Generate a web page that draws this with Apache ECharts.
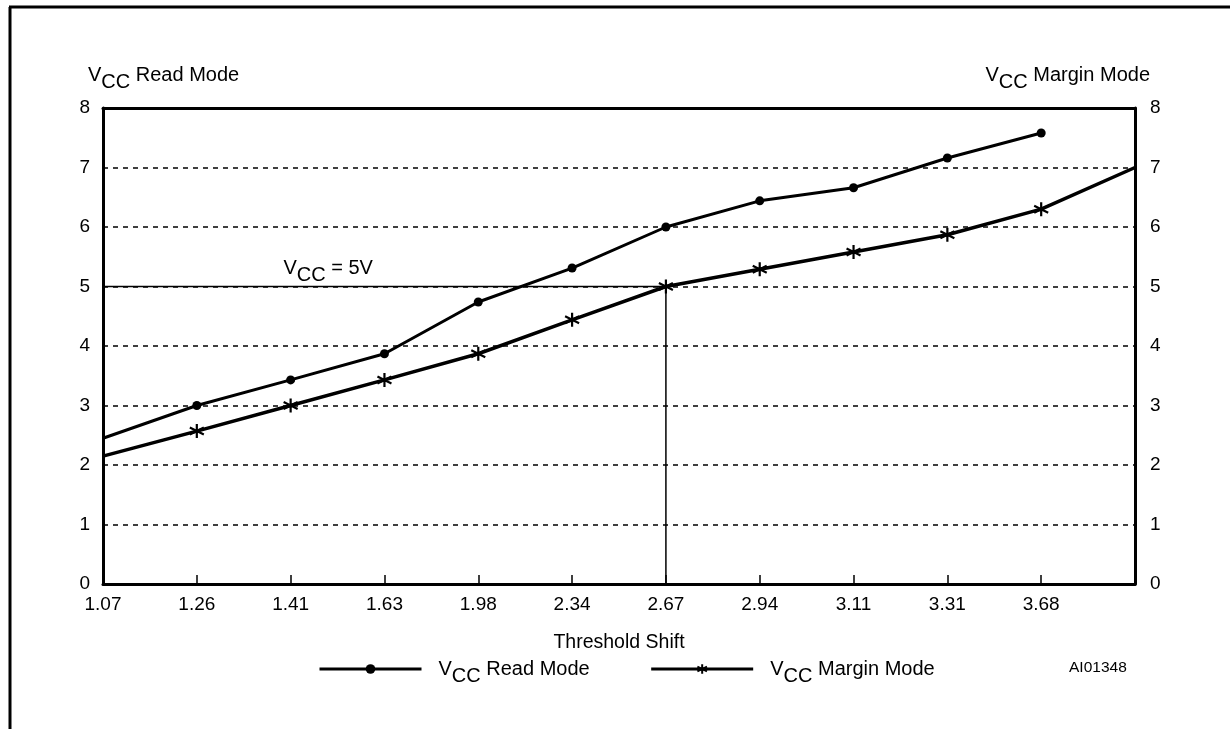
<!DOCTYPE html>
<html>
<head>
<meta charset="utf-8">
<script src="https://cdn.jsdelivr.net/npm/echarts@6/dist/echarts.min.js"></script>
<style>
  html, body { margin: 0; padding: 0; background: #fff; }
  #chart { width: 1230px; height: 729px; }
</style>
</head>
<body>
<div id="chart"></div>
<script>
// threshold shift categories (last one is the unlabeled right edge)
const shifts = ['1.07', '1.26', '1.41', '1.63', '1.98', '2.34', '2.67', '2.94', '3.11', '3.31', '3.68', '']
const readMode = [2.45, 3.0, 3.43, 3.87, 4.74, 5.31, 6.0, 6.44, 6.66, 7.16, 7.58, null]
const marginMode = [2.15, 2.57, 3.0, 3.43, 3.87, 4.44, 5.0, 5.29, 5.58, 5.87, 6.3, 7.0]
const yTicks = [0, 8, 1]
// Vcc = 5V reference: across to 2.67 then down to the axis
const refLine = [[0, 5], [6, 5], [6, 0]]

const FONT = 'Liberation Sans, Arial, sans-serif'
const ink = '#000'
const asterisk = 'path://M0,-6L0,6M-5.2,-3L5.2,3M-5.2,3L5.2,-3'

const chart = echarts.init(document.getElementById('chart'), null, { renderer: 'canvas' })

const vccRich = {
  v: { fontFamily: FONT, fontSize: 20, color: ink },
  s: { fontFamily: FONT, fontSize: 20, color: ink, padding: [14, 0, 0, 0] },
  t: { fontFamily: FONT, fontSize: 20, color: ink }
}

const readData = readMode.map((v, i) => i === 0 ? { value: v, symbol: 'none' } : v)
const marginData = marginMode.map((v, i) => (i === 0 || i === marginMode.length - 1) ? { value: v, symbol: 'none' } : v)

chart.setOption({
  animation: false,
  backgroundColor: '#fff',
  textStyle: { fontFamily: FONT },
  grid: { left: 103, right: 95, top: 108, bottom: 145 },
  legend: {
    data: ['Read Mode', 'Margin Mode'],
    left: 313,
    top: 654,
    itemWidth: 102,
    itemHeight: 12,
    itemGap: 60,
    lineStyle: { width: 3 },
    formatter: name => '{v|V}{s|CC}{t| ' + name + '}',
    textStyle: { fontFamily: FONT, fontSize: 20, color: ink, padding: [0, 0, 0, 12], rich: vccRich }
  },
  xAxis: [
    {
      type: 'category',
      data: shifts,
      boundaryGap: false,
      name: 'Threshold Shift',
      nameLocation: 'middle',
      nameGap: 49,
      nameTextStyle: { fontFamily: FONT, fontSize: 19.5, color: ink },
      axisLine: { lineStyle: { color: ink, width: 3 } },
      axisTick: { inside: true, length: 9, lineStyle: { color: ink, width: 1.5 } },
      axisLabel: { fontFamily: FONT, fontSize: 19, color: ink, margin: 11, showMaxLabel: true },
      splitLine: { show: false }
    },
    {
      type: 'category',
      data: shifts,
      boundaryGap: false,
      position: 'top',
      axisLine: { onZero: false, lineStyle: { color: ink, width: 3 } },
      axisTick: { show: false },
      axisLabel: { show: false }
    }
  ],
  yAxis: [
    {
      type: 'value',
      min: yTicks[0], max: yTicks[1], interval: yTicks[2],
      axisLine: { show: true, onZero: false, lineStyle: { color: ink, width: 3 } },
      axisTick: { show: false },
      axisLabel: { fontFamily: FONT, fontSize: 19, color: ink, margin: 13 },
      splitLine: { show: true, lineStyle: { color: ink, width: 1.5, type: [5, 5] } }
    },
    {
      type: 'value',
      min: yTicks[0], max: yTicks[1], interval: yTicks[2],
      position: 'right',
      axisLine: { show: true, onZero: false, lineStyle: { color: ink, width: 3 } },
      axisTick: { show: false },
      axisLabel: { fontFamily: FONT, fontSize: 19, color: ink, margin: 15 },
      splitLine: { show: false }
    }
  ],
  series: [
    {
      name: 'Vcc5',
      type: 'line',
      data: refLine,
      symbol: 'none',
      silent: true,
      lineStyle: { color: ink, width: 1.5 },
      z: 1
    },
    {
      name: 'Read Mode',
      type: 'line',
      data: readData,
      symbol: 'circle',
      symbolSize: 9,
      itemStyle: { color: ink },
      lineStyle: { color: ink, width: 3 },
      z: 3
    },
    {
      name: 'Margin Mode',
      type: 'line',
      yAxisIndex: 1,
      data: marginData,
      symbol: asterisk,
      symbolSize: 14,
      itemStyle: { color: ink, borderColor: ink, borderWidth: 2.2 },
      lineStyle: { color: ink, width: 3.5 },
      z: 3
    }
  ]
})

// texts anchored on the axes
const p1 = chart.convertToPixel({ xAxisIndex: 0, yAxisIndex: 0 }, [1, 5])
const p2 = chart.convertToPixel({ xAxisIndex: 0, yAxisIndex: 0 }, [2, 5])
const top8 = chart.convertToPixel({ xAxisIndex: 0, yAxisIndex: 0 }, [0, 8])
const right8 = chart.convertToPixel({ xAxisIndex: 0, yAxisIndex: 0 }, [shifts.length - 1, 8])

chart.setOption({
  graphic: [
    { type: 'line', shape: { x1: 9, y1: 7, x2: 1230, y2: 7 }, style: { stroke: ink, lineWidth: 3 } },
    { type: 'line', shape: { x1: 10, y1: 7, x2: 10, y2: 729 }, style: { stroke: ink, lineWidth: 3 } },
    {
      type: 'text', left: top8[0] - 15, top: top8[1] - 43,
      style: { text: '{v|V}{s|CC}{t| Read Mode}', rich: vccRich }
    },
    {
      type: 'text', right: 1230 - right8[0] - 15, top: right8[1] - 43,
      style: { text: '{v|V}{s|CC}{t| Margin Mode}', rich: vccRich, align: 'right' }
    },
    {
      type: 'text', left: p1[0] + (p2[0] - p1[0]) * 0.88 + 4, top: p1[1] - 28,
      style: { text: '{v|V}{s|CC}{t| = 5V}', rich: vccRich }
    },
    {
      type: 'text', left: 1069, top: 660,
      style: { text: 'AI01348', fontFamily: FONT, fontSize: 15.5, fill: ink }
    }
  ]
})
</script>
</body>
</html>
